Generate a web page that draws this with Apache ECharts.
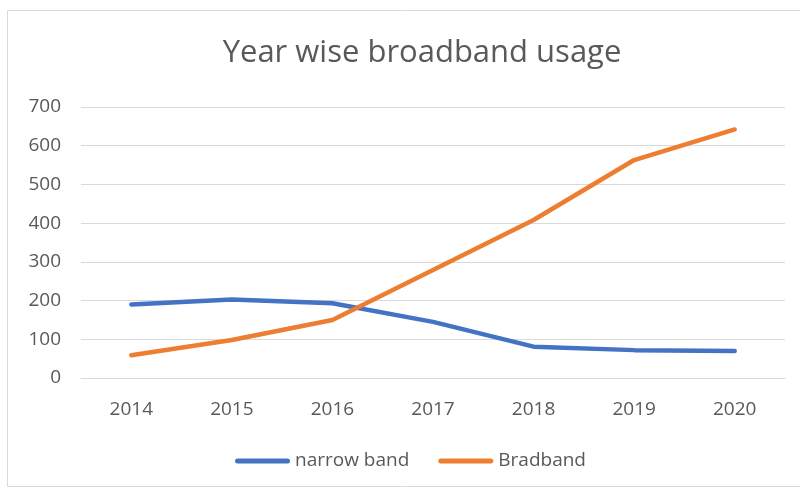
<!DOCTYPE html>
<html>
<head>
<meta charset="utf-8">
<script src="https://cdn.jsdelivr.net/npm/echarts@6/dist/echarts.min.js"></script>
<style>html,body{margin:0;padding:0;background:#fff}#c{width:800px;height:490px}</style>
</head>
<body>
<div id="c"></div>
<script>
const years = ['2014','2015','2016','2017','2018','2019','2020'];
const narrowBand = [190, 203, 193, 145, 81, 72, 70];
const bradband = [59, 98, 150, 279, 408, 563, 642];
const yTicks = {min: 0, max: 700, interval: 100};

const FONT = '"Open Sans", sans-serif';
const chart = echarts.init(document.getElementById('c'), null, {renderer: 'canvas'});
chart.setOption({
  animation: false,
  backgroundColor: '#ffffff',
  graphic: [{
    type: 'rect', shape: {x: 7.5, y: 10.5, width: 800, height: 476},
    style: {fill: 'none', stroke: '#d9d9d9', lineWidth: 1}, silent: true
  }],
  title: {
    text: 'Year wise broadband usage',
    left: 422, top: 38, textAlign: 'center', padding: 0,
    textStyle: {fontFamily: FONT, fontSize: 31, fontWeight: 'normal', color: '#595959'}
  },
  legend: {
    top: 450, left: 235, padding: 0,
    itemWidth: 55, itemHeight: 5, itemGap: 29,
    icon: 'path://M2.5,0 L52.5,0 A2.5,2.5 0 0 1 52.5,5 L2.5,5 A2.5,2.5 0 0 1 2.5,0 Z',
    textStyle: {fontFamily: FONT, fontSize: 19, color: '#595959', lineHeight: 22},
    data: ['narrow band', 'Bradband']
  },
  grid: {left: 81, right: 15, top: 107, bottom: 112, containLabel: false},
  xAxis: {
    type: 'category', data: years, boundaryGap: true,
    axisLine: {lineStyle: {color: '#d9d9d9', width: 1}},
    axisTick: {show: false},
    axisLabel: {fontFamily: FONT, fontSize: 19, color: '#595959', margin: 22}
  },
  yAxis: {
    type: 'value', min: yTicks.min, max: yTicks.max, interval: yTicks.interval,
    axisLine: {show: false}, axisTick: {show: false},
    splitLine: {lineStyle: {color: '#d9d9d9', width: 1}},
    axisLabel: {fontFamily: FONT, fontSize: 19, color: '#595959', margin: 20}
  },
  series: [
    {name: 'narrow band', type: 'line', data: narrowBand, symbol: 'none',
     color: '#4472C4', lineStyle: {width: 4.5, color: '#4472C4', cap: 'round', join: 'round'}},
    {name: 'Bradband', type: 'line', data: bradband, symbol: 'none',
     color: '#ED7D31', lineStyle: {width: 4.5, color: '#ED7D31', cap: 'round', join: 'round'}}
  ]
});
</script>
</body>
</html>
